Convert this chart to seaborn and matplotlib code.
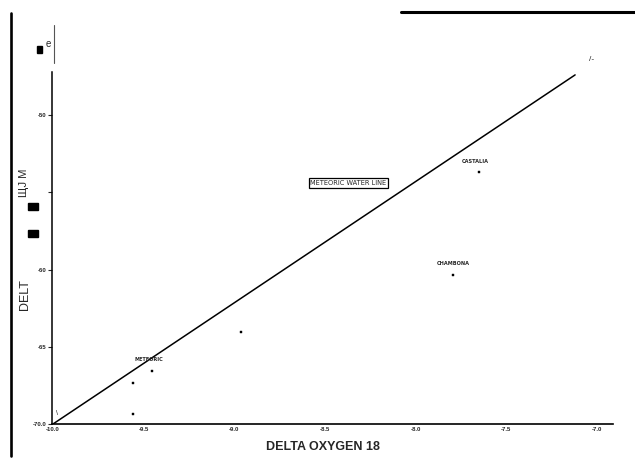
import matplotlib
matplotlib.use("Agg")
import matplotlib.pyplot as plt
from matplotlib.lines import Line2D
from matplotlib.patches import Rectangle
import pandas as pd
import seaborn as sns

# --- data ---
sample_o18 = [-9.454, -9.559, -9.559, -8.963, -7.650, -7.794]
sample_dd = [-66.57, -67.35, -69.35, -64.05, -53.69, -60.36]

mwl_o18 = [-10.0, -7.12]
mwl_dd = [-70.0, -47.4]

site_names = ["METEORIC", "CASTALIA", "CHAMBONA"]
site_o18 = [-9.47, -7.67, -7.79]
site_dd = [-66.0, -53.2, -59.8]

x_ticks = [-10.0, -9.5, -9.0, -8.5, -8.0, -7.5, -7.0]
x_tick_labels = ["-10.0", "-9.5", "-9.0", "-8.5", "-8.0", "-7.5", "-7.0"]
y_ticks = [-70, -65, -60, -55, -50]
y_tick_labels = ["-70.0", "-65", "-60", "", "-50"]

sns.set_theme(style="white")
plt.rcParams["font.family"] = ["Liberation Sans", "DejaVu Sans"]

W, H = 635, 462
fig = plt.figure(figsize=(W / 100, H / 100), dpi=100)
# axes box in pixel terms: left 52, right 613, top 25, bottom 424
ax = fig.add_axes([52 / W, (H - 424) / H, (613 - 52) / W, (424 - 25) / H])

samples = pd.DataFrame({"o18": sample_o18, "dd": sample_dd})
mwl = pd.DataFrame({"o18": mwl_o18, "dd": mwl_dd})

sns.lineplot(data=mwl, x="o18", y="dd", color="black", lw=1.1, ax=ax)
sns.scatterplot(data=samples, x="o18", y="dd", marker="s", s=3,
                color="black", edgecolor="black", linewidth=0.3, ax=ax)

for name, x, y in zip(site_names, site_o18, site_dd):
    ax.text(x, y, name, fontsize=3.6, fontweight="bold", ha="center",
            va="bottom", family="DejaVu Sans Condensed")

ax.text(-8.37, -54.4, "METEORIC WATER LINE", fontsize=4.8, ha="center",
        va="center", family="DejaVu Sans Condensed",
        bbox=dict(boxstyle="square,pad=0.25", fc="white", ec="black", lw=0.9))
ax.text(-7.03, -46.4, "/-", fontsize=6, ha="center", va="center")
ax.text(-9.98, -69.3, "\\", fontsize=5, ha="center", va="center")

ax.set_xlim(-10.0055, -6.911)
ax.set_ylim(-70, -44.17)
ax.set_xticks(x_ticks)
ax.set_xticklabels(x_tick_labels, fontsize=4.3, fontweight="bold")
ax.set_yticks(y_ticks)
ax.set_yticklabels(y_tick_labels, fontsize=4.3, fontweight="bold")
ax.tick_params(axis="x", length=0, pad=2)
ax.tick_params(axis="y", length=3, width=0.8, pad=1, left=True)

for side in ["top", "right"]:
    ax.spines[side].set_visible(False)
ax.spines["left"].set_bounds(-70, -47.2)
ax.spines["left"].set_linewidth(1.1)
ax.spines["bottom"].set_linewidth(1.2)
ax.spines["left"].set_color("black")
ax.spines["bottom"].set_color("black")

ax.set_xlabel("DELTA OXYGEN 18", fontsize=9, fontweight="bold")
ax.xaxis.set_label_coords((323 - 52) / 561, (424 - 441) / 399)
ax.set_ylabel("DELT", fontsize=9)
ax.yaxis.set_label_coords((31 - 52) / 561, (424 - 295) / 399)

# scan leftovers around the frame
fig.add_artist(Line2D([54 / W, 54 / W], [(H - 25) / H, (H - 63) / H],
                      color="#555555", lw=0.8))
fig.add_artist(Line2D([11 / W, 11 / W], [(H - 13) / H, (H - 456) / H],
                      color="black", lw=1.9))
fig.add_artist(Line2D([401 / W, 1.0], [(H - 12) / H, (H - 12) / H],
                      color="black", lw=2.2))
fig.text(24 / W, (H - 183) / H, "ЩJ M", fontsize=8, rotation=90,
         ha="center", va="center")
for top in [203, 230]:
    fig.add_artist(Rectangle((28 / W, (H - top - 7) / H), 10 / W, 7 / H,
                             color="black"))
fig.add_artist(Rectangle((37 / W, (H - 53) / H), 5 / W, 7 / H, color="black"))
fig.text(48 / W, (H - 44) / H, "e", fontsize=7, ha="center", va="center")

fig.savefig("out.png", dpi=100)
